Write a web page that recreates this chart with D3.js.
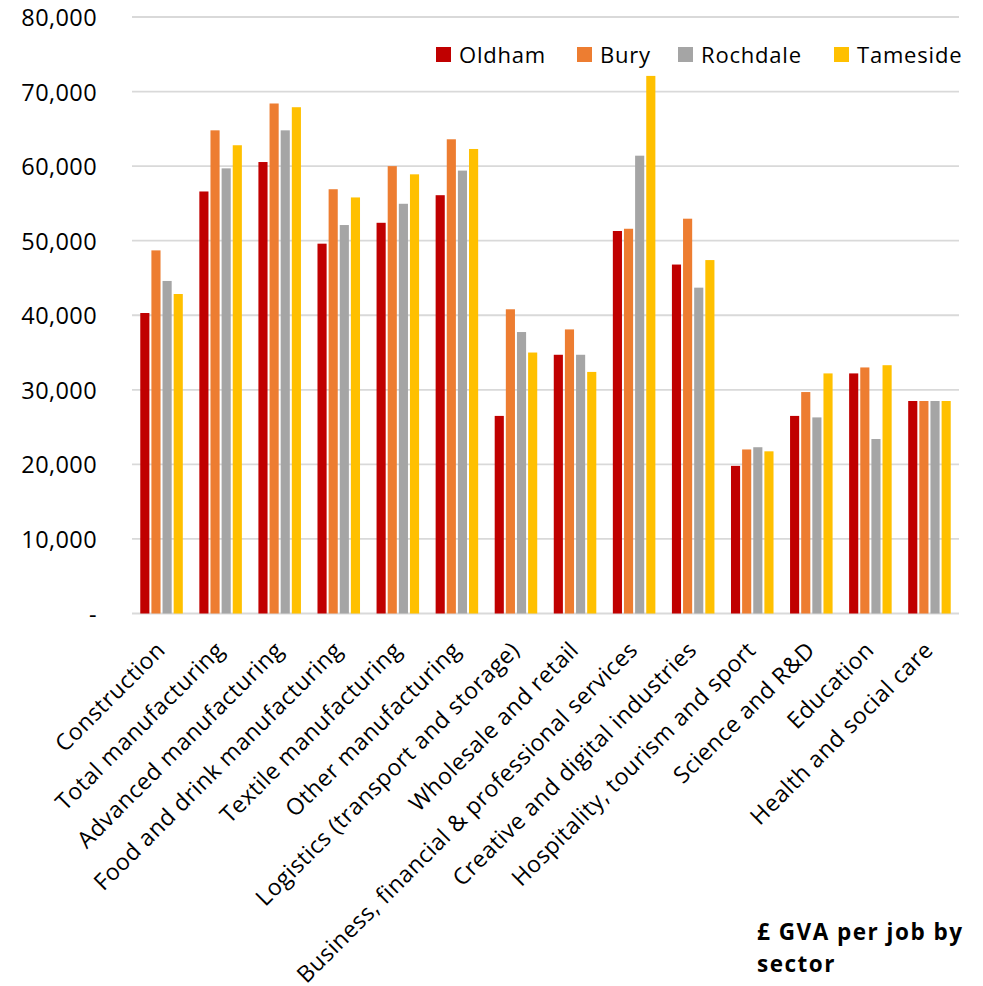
<!DOCTYPE html>
<html><head><meta charset="utf-8">
<script src="https://cdn.jsdelivr.net/npm/d3@7"></script>
<style>body{margin:0;background:#fff}svg{display:block}text{font-family:"Open Sans",sans-serif;fill:#000}</style>
</head><body>
<script>
const categories = ["Construction","Total manufacturing","Advanced manufacturing","Food and drink manufacturing","Textile manufacturing","Other manufacturing","Logistics (transport and storage)","Wholesale and retail","Business, financial & professional services","Creative and digital industries","Hospitality, tourism and sport","Science and R&D","Education","Health and social care"];
const seriesNames = ["Oldham","Bury","Rochdale","Tameside"];
const oldham   = [40300,56600,60550,49600,52400,56100,26500,34700,51300,46800,19800,26500,32200,28500];
const bury     = [48700,64800,68400,56900,60000,63600,40800,38100,51600,52950,22000,29700,33000,28500];
const rochdale = [44600,59700,64800,52100,54950,59400,37750,34700,61400,43700,22300,26300,23400,28500];
const tameside = [42850,62800,67900,55800,58900,62300,35000,32400,72100,47400,21750,32200,33300,28500];
const colors = ["#C00000","#ED7D31","#A5A5A5","#FFC000"];
const yTicks = [0,10000,20000,30000,40000,50000,60000,70000,80000];
const titleLines = ["£ GVA per job by","sector"];

(function(){
const values = [oldham,bury,rochdale,tameside];
const W=983,H=986;
const svg=d3.select("body").append("svg").attr("width",W).attr("height",H);
const pL=132,pR=959,pT=17,pB=613.5;
const y=d3.scaleLinear().domain([0,80000]).range([pB,pT]);
const x0=d3.scaleBand().domain(categories).range([pL,pR]).paddingInner(0.28).paddingOuter(0.14);
const x1=d3.scaleBand().domain(seriesNames).range([0,x0.bandwidth()]).paddingInner(0.18).paddingOuter(0);

svg.append("g").selectAll("line").data(yTicks).join("line")
  .attr("x1",pL).attr("x2",pR).attr("y1",d=>y(d)).attr("y2",d=>y(d))
  .attr("stroke","#d9d9d9").attr("stroke-width",1.8);

const fmt=d3.format(",");
svg.append("g").selectAll("text").data(yTicks).join("text")
  .attr("x",97).attr("y",d=>y(d)+9).attr("text-anchor","end")
  .style("font-size","23.5px").style("letter-spacing","0.4px")
  .text(d=>d===0?"-":fmt(d));

const g=svg.append("g");
categories.forEach((c,i)=>{
  seriesNames.forEach((s,j)=>{
    g.append("rect")
      .attr("x",x0(c)+x1(s)).attr("width",x1.bandwidth())
      .attr("y",y(values[j][i])).attr("height",y(0)-y(values[j][i]))
      .attr("fill",colors[j]);
  });
});

svg.append("g").selectAll("text").data(categories).join("text")
  .attr("transform",d=>`translate(${x0(d)+x0.bandwidth()/2+5},${pB+38}) rotate(-45)`)
  .attr("text-anchor","end")
  .style("font-size","23px").style("letter-spacing","0.5px")
  .text(d=>d);

const legX=[436,577,678,834];
const leg=svg.append("g");
seriesNames.forEach((s,j)=>{
  leg.append("rect").attr("x",legX[j]).attr("y",47).attr("width",15).attr("height",15).attr("fill",colors[j]);
  leg.append("text").attr("x",legX[j]+23).attr("y",62.5)
    .style("font-size","22px").style("letter-spacing","0.8px").text(s);
});

svg.append("g").selectAll("text").data(titleLines).join("text")
  .attr("x",757).attr("y",(d,i)=>940+i*32)
  .style("font-size","22.5px").style("font-weight","bold").style("letter-spacing","1.5px")
  .text(d=>d);
})();
</script>
</body></html>
